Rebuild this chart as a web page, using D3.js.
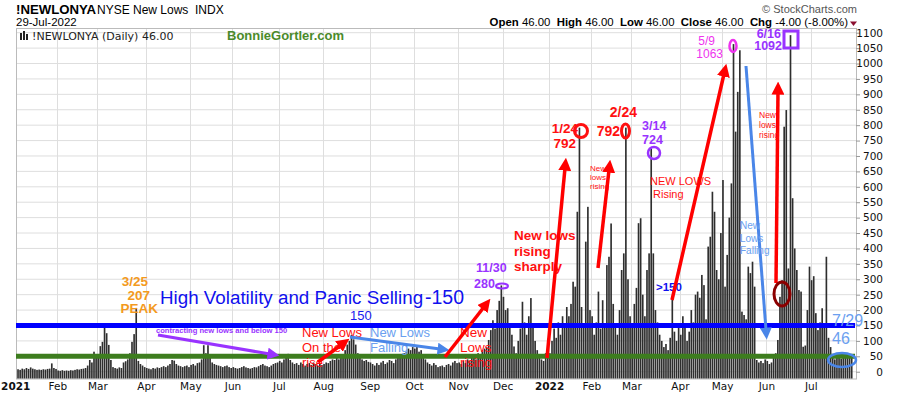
<!DOCTYPE html>
<html>
<head>
<meta charset="utf-8">
<script src="https://cdn.jsdelivr.net/npm/d3@7"></script>
<style>
  body { margin: 0; background: #fff; }
  svg { display: block; font-family: "Liberation Sans", Arial, sans-serif; }
</style>
</head>
<body>
<svg width="900" height="396"></svg>
<script>
// daily NYSE new lows, one array per month (trading days)
const jan21 = [8, 6, 10, 8, 12, 9, 14, 10, 8, 6, 7, 6, 8, 7, 9, 10, 27, 12, 9];
const feb21 = [4, 3, 5, 3, 4, 3, 5, 4, 6, 8, 7, 9, 10, 12, 20, 38, 30, 65, 45];
const mar21 = [57, 83, 97, 150, 125, 87, 38, 15, 12, 10, 14, 12, 30, 34, 40, 60, 97, 122, 207, 35, 25, 20, 15];
const apr21 = [12, 10, 8, 12, 10, 14, 12, 15, 18, 15, 20, 25, 38, 36, 25, 20, 18, 15, 18, 20, 15];
const may21 = [22, 25, 20, 28, 30, 40, 86, 60, 86, 45, 30, 25, 22, 20, 18, 15, 18, 20, 15, 12];
const jun21 = [15, 12, 10, 12, 15, 18, 14, 12, 10, 12, 15, 14, 18, 22, 25, 20, 18, 15, 20, 25, 28, 30];
const jul21 = [35, 30, 40, 45, 58, 38, 30, 25, 28, 22, 30, 25, 20, 25, 28, 22, 30, 25, 20, 28, 22];
const aug21 = [25, 30, 28, 35, 40, 38, 45, 40, 50, 55, 70, 88, 100, 119, 105, 88, 60, 50, 40, 35, 38, 32];
const sep21 = [30, 25, 20, 28, 22, 30, 35, 25, 30, 38, 35, 28, 40, 45, 55, 50, 60, 65, 75, 70, 80];
const oct21 = [75, 81, 65, 70, 55, 40, 30, 25, 20, 28, 22, 15, 18, 20, 15, 22, 25, 20, 30, 35, 28];
const nov21 = [30, 25, 35, 28, 40, 35, 45, 50, 40, 60, 55, 70, 75, 80, 103, 135, 167, 140, 200, 230, 280];
const dec21 = [243, 200, 206, 150, 120, 82, 60, 100, 140, 227, 160, 120, 180, 239, 150, 100, 70, 50, 40, 35, 60, 45];
const jan22 = [60, 100, 140, 110, 160, 120, 180, 150, 210, 180, 220, 292, 276, 519, 792, 210, 150, 422, 535, 200];
const feb22 = [180, 120, 160, 260, 140, 232, 150, 346, 373, 481, 220, 150, 120, 200, 330, 384, 792, 300, 180];
const mar22 = [150, 220, 272, 482, 498, 250, 180, 330, 384, 724, 384, 200, 160, 120, 100, 80, 90, 70, 110, 240, 130, 100, 150];
const apr22 = [120, 180, 150, 100, 130, 200, 160, 250, 260, 240, 314, 281, 170, 406, 438, 584, 519, 330, 300, 450];
const may22 = [622, 276, 379, 500, 611, 1063, 779, 908, 1043, 195, 184, 170, 341, 320, 357, 276, 38, 30, 35, 28, 40];
const jun22 = [35, 25, 30, 55, 60, 103, 243, 297, 795, 849, 335, 1092, 563, 400, 330, 265, 260, 81, 85, 200, 341];
const jul22 = [297, 310, 190, 135, 160, 206, 150, 373, 110, 80, 45, 40, 50, 45, 42, 48, 50, 55, 50, 46];

const monthLabels = ["2021", "Feb", "Mar", "Apr", "May", "Jun", "Jul", "Aug", "Sep", "Oct", "Nov", "Dec",
                     "2022", "Feb", "Mar", "Apr", "May", "Jun", "Jul"];
const months = [jan21, feb21, mar21, apr21, may21, jun21, jul21, aug21, sep21, oct21, nov21, dec21,
                jan22, feb22, mar22, apr22, may22, jun22, jul22];
const yTicks = d3.range(0, 1101, 50);

// flatten
let values = [];
let monthStart = [];
months.forEach((m) => {
  monthStart.push(values.length);
  values = values.concat(m);
});
const labelAt = new Map(monthStart.map((s, i) => [s, monthLabels[i]]));

const svg = d3.select("svg");
const pLeft = 16, pRight = 856, pTop = 28, pBottom = 378.5;

const x = d3.scaleLinear().domain([0, values.length]).range([17.2, 853]);
const y = d3.scaleLinear().domain([-22, 1100]).range([pBottom, 32.7]);
const bw = x(1) - x(0);

// header
svg.append("text").attr("x", 16).attr("y", 14).attr("font-size", 13.2).attr("font-weight", "bold").text("!NEWLONYA");
svg.append("text").attr("x", 97).attr("y", 14).attr("font-size", 12).attr("xml:space", "preserve").text("NYSE New Lows  INDX");
svg.append("text").attr("x", 16).attr("y", 26).attr("font-size", 11.5).text("29-Jul-2022");
svg.append("text").attr("x", 857).attr("y", 13).attr("font-size", 11).attr("fill", "#555")
  .attr("text-anchor", "end").text("\u00A9 StockCharts.com");

const ohlc = svg.append("text").attr("x", 848).attr("y", 26).attr("font-size", 11.4)
  .attr("text-anchor", "end").attr("xml:space", "preserve");
[["Open", "46.00"], ["High", "46.00"], ["Low", "46.00"], ["Close", "46.00"], ["Chg", "-4.00 (-8.00%)"]].forEach((p, i) => {
  ohlc.append("tspan").attr("font-weight", "bold").text((i ? "  " : "") + p[0] + " ");
  ohlc.append("tspan").text(p[1]);
});
svg.append("path").attr("d", "M850,21.5 L857,21.5 L853.5,26 Z").attr("fill", "#8b1030");

// plot frame + grid
const grid = svg.append("g");
grid.selectAll("line.h").data(yTicks).enter().append("line")
  .attr("x1", pLeft).attr("x2", pRight).attr("y1", (d) => y(d)).attr("y2", (d) => y(d))
  .attr("stroke", "#dedede").attr("stroke-width", 1);
grid.selectAll("line.v").data(monthStart.slice(1)).enter().append("line")
  .attr("x1", (d) => Math.round(x(d)) + 0.5).attr("x2", (d) => Math.round(x(d)) + 0.5)
  .attr("y1", pTop).attr("y2", pBottom).attr("stroke", "#dedede");
svg.append("rect").attr("x", pLeft + 0.5).attr("y", pTop + 0.5).attr("width", pRight - pLeft).attr("height", pBottom - pTop)
  .attr("fill", "none").attr("stroke", "#bbb");

// legend line inside frame
svg.append("g").attr("fill", "#222").selectAll("rect").data([[20, 33, 2, 7], [23, 31, 2, 9], [26, 34, 2, 6]]).enter()
  .append("rect").attr("x", (d) => d[0]).attr("y", (d) => d[1]).attr("width", (d) => d[2]).attr("height", (d) => d[3]);
svg.append("text").attr("x", 32).attr("y", 39.5).attr("font-size", 11).attr("font-family", "DejaVu Sans")
  .attr("fill", "#222").text("!NEWLONYA (Daily) 46.00");
svg.append("text").attr("x", 227).attr("y", 39.5).attr("font-size", 13).attr("font-weight", "bold")
  .attr("fill", "#4a8a2a").text("BonnieGortler.com");

// bars
svg.append("g").selectAll("rect").data(values).enter().append("rect")
  .attr("x", (d, i) => x(i))
  .attr("width", bw * 0.78)
  .attr("y", (d) => y(d))
  .attr("height", (d) => pBottom - y(d))
  .attr("fill", "#2e2e2e");

// axes
const xAxis = d3.axisBottom(x).tickValues(monthStart).tickSize(0).tickPadding(4)
  .tickFormat((d) => labelAt.get(d));
const gx = svg.append("g").attr("transform", `translate(0,${pBottom})`).call(xAxis);
gx.select(".domain").remove();
gx.selectAll("text").attr("font-family", "DejaVu Sans").attr("font-size", 10.5).attr("fill", "#111")
  .attr("font-weight", (d) => (labelAt.get(d).length === 4 ? "bold" : "normal"))
  .attr("x", (d) => (d === 0 ? -2 : 0));

const yAxis = d3.axisRight(y).tickValues(yTicks).tickSize(4).tickPadding(2).tickFormat(d3.format("d"));
const gy = svg.append("g").attr("transform", `translate(${pRight},0)`).call(yAxis);
gy.select(".domain").remove();
gy.selectAll("line").attr("stroke", "#999");
gy.selectAll("text").attr("font-family", "DejaVu Sans").attr("font-size", 10.5).attr("fill", "#111")
  .attr("text-anchor", "end").attr("x", 27);

// annotations
const defs = svg.append("defs");
const marker = (id, color, size) => {
  defs.append("marker").attr("id", id).attr("viewBox", "0 0 10 10").attr("refX", 2).attr("refY", 5)
    .attr("markerWidth", size).attr("markerHeight", size).attr("orient", "auto")
    .attr("markerUnits", "userSpaceOnUse")
    .append("path").attr("d", "M0,0 L10,5 L0,10 Z").attr("fill", color);
};
marker("ar", "#ff0000", 13);
marker("ab", "#4a86e8", 12);
marker("ap", "#9933ff", 12);

const arrow = (x1, y1, x2, y2, color, id, w) => {
  svg.append("line").attr("x1", x1).attr("y1", y1).attr("x2", x2).attr("y2", y2)
    .attr("stroke", color).attr("stroke-width", w).attr("marker-end", `url(#${id})`);
};
const label = (tx, ty, lines, opts) => {
  const t = svg.append("text").attr("x", tx).attr("y", ty).attr("font-size", opts.size)
    .attr("fill", opts.color).attr("font-weight", opts.bold ? "bold" : "normal")
    .attr("text-anchor", opts.anchor || "start");
  lines.forEach((l, i) => t.append("tspan").attr("x", tx).attr("dy", i ? opts.lh : 0).text(l));
};

// threshold lines
svg.append("line").attr("x1", pLeft).attr("x2", pRight - 1).attr("y1", y(150)).attr("y2", y(150))
  .attr("stroke", "#0000ff").attr("stroke-width", 5);
svg.append("line").attr("x1", pLeft).attr("x2", pRight - 1).attr("y1", y(50)).attr("y2", y(50))
  .attr("stroke", "#3d7d1e").attr("stroke-width", 5);

label(148, 286, ["3/25"], { size: 13.5, color: "#f39a1e", bold: true, anchor: "end" });
label(150, 299.5, ["207"], { size: 13.5, color: "#f39a1e", bold: true, anchor: "end" });
label(158, 313, ["PEAK"], { size: 13.5, color: "#f39a1e", bold: true, anchor: "end" });
label(160, 304, ["High Volatility and Panic Selling"], { size: 18.8, color: "#1010ee" });
label(425, 304, ["-150"], { size: 19.5, color: "#1010ee" });
label(350, 320, ["150"], { size: 13, color: "#1a1aee" });
label(156, 333, ["contracting new lows and below 150"], { size: 7.6, color: "#9933ff", bold: true });
arrow(158, 335, 270, 354, "#9933ff", "ap", 3);

label(302, 337, ["New Lows", "On the", "rise"], { size: 13, color: "#ff1010", lh: 15 });
arrow(318, 362, 341, 345, "#ff0000", "ar", 3.5);
label(370, 337, ["New Lows", "Falling"], { size: 13, color: "#6b9ff0", lh: 15 });
arrow(350, 337, 440, 349, "#4a86e8", "ab", 3);
label(460, 337, ["New", "Lows", "rising"], { size: 13.5, color: "#ff1010", lh: 15 });
arrow(445, 357, 484, 307, "#ff0000", "ar", 3.5);

label(476, 272, ["11/30"], { size: 12.5, color: "#9933ff", bold: true });
label(474, 287.5, ["280"], { size: 12.5, color: "#9933ff", bold: true });
svg.append("ellipse").attr("cx", 502).attr("cy", 286).attr("rx", 6).attr("ry", 2.5)
  .attr("fill", "none").attr("stroke", "#9933ff").attr("stroke-width", 2);

label(514, 240, ["New lows", "rising", "sharply"], { size: 13.5, color: "#ff1010", bold: true, lh: 15.5 });
arrow(547, 358, 565, 168, "#ff0000", "ar", 3.5);

label(578, 133, ["1/24"], { size: 13.5, color: "#ff1010", bold: true, anchor: "end" });
label(576, 148, ["792"], { size: 13.5, color: "#ff1010", bold: true, anchor: "end" });
svg.append("ellipse").attr("cx", 581).attr("cy", 131).attr("rx", 6.5).attr("ry", 6.5)
  .attr("fill", "none").attr("stroke", "#ff1010").attr("stroke-width", 3);

label(637, 117, ["2/24"], { size: 14, color: "#ff1010", bold: true, anchor: "end" });
label(620, 136, ["792"], { size: 14, color: "#ff1010", bold: true, anchor: "end" });
svg.append("ellipse").attr("cx", 625.5).attr("cy", 131).attr("rx", 4).attr("ry", 7)
  .attr("fill", "none").attr("stroke", "#ff1010").attr("stroke-width", 3);
label(590, 171, ["New", "lows", "rising"], { size: 8, color: "#ff1010", lh: 9 });
arrow(598, 268, 609, 170, "#ff0000", "ar", 3.5);

label(642, 130, ["3/14"], { size: 12.5, color: "#9933ff", bold: true });
label(642, 143.5, ["724"], { size: 12.5, color: "#9933ff", bold: true });
svg.append("ellipse").attr("cx", 654).attr("cy", 153).attr("rx", 6).attr("ry", 6)
  .attr("fill", "none").attr("stroke", "#9933ff").attr("stroke-width", 2.5);
label(650, 185, ["NEW LOWS"], { size: 11, color: "#ff1010" });
label(653, 198, ["Rising"], { size: 11, color: "#ff1010" });
label(656, 291, [">150"], { size: 11.5, color: "#1010ee", bold: true });
arrow(672, 300, 724, 74, "#ff0000", "ar", 3.5);

label(715, 45, ["5/9"], { size: 12, color: "#ee33ee", anchor: "end" });
label(723, 58, ["1063"], { size: 12, color: "#ee33ee", anchor: "end" });
svg.append("ellipse").attr("cx", 733).attr("cy", 46).attr("rx", 3.5).attr("ry", 6)
  .attr("fill", "none").attr("stroke", "#ee33ee").attr("stroke-width", 2.5);

arrow(746, 66, 766, 330, "#4a86e8", "ab", 3);
label(740, 229, ["New", "Lows", "Falling"], { size: 10, color: "#6b9ff0", lh: 12.5 });

arrow(776, 283, 778, 92, "#ff0000", "ar", 3.5);
label(759, 118, ["New", "lows", "rising"], { size: 8.5, color: "#ff1010", lh: 10 });
svg.append("ellipse").attr("cx", 782).attr("cy", 294).attr("rx", 8).attr("ry", 12)
  .attr("fill", "none").attr("stroke", "#8b0000").attr("stroke-width", 3);

label(781, 37.5, ["6/16"], { size: 12.5, color: "#9933ff", bold: true, anchor: "end" });
label(782, 50, ["1092"], { size: 12.5, color: "#9933ff", bold: true, anchor: "end" });
svg.append("rect").attr("x", 784).attr("y", 31).attr("width", 14).attr("height", 17)
  .attr("fill", "none").attr("stroke", "#9933ff").attr("stroke-width", 3);

label(832, 326, ["7/29"], { size: 16, color: "#6b9ff0" });
label(832, 344, ["46"], { size: 16, color: "#6b9ff0" });
svg.append("ellipse").attr("cx", 842).attr("cy", 360).attr("rx", 14).attr("ry", 7)
  .attr("fill", "none").attr("stroke", "#4a86e8").attr("stroke-width", 2.5);
</script>
</body>
</html>
